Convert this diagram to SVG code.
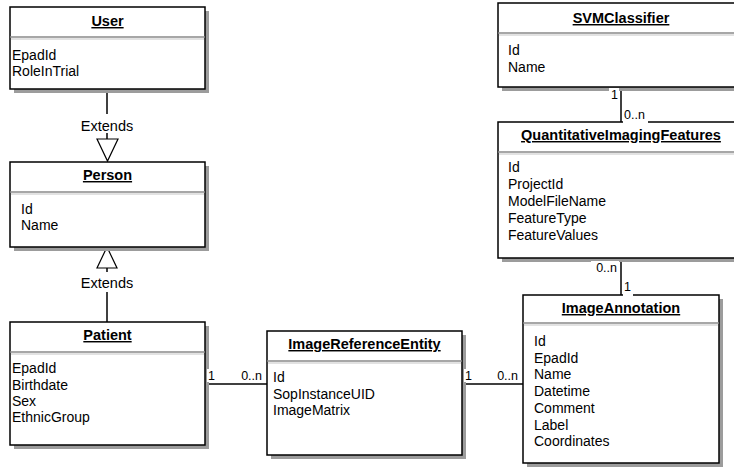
<svg xmlns="http://www.w3.org/2000/svg" width="734" height="475" viewBox="0 0 734 475">
<style>
text{font-family:"Liberation Sans",Arial,sans-serif;fill:#000}
.box{fill:#fff;stroke:#000;stroke-width:1.5}
.sh{fill:#9c9c9c}
.sep{stroke:#8a8a8a;stroke-width:1.5}
.sep2{stroke:#e2e2e2;stroke-width:2}
.title{font-size:14.5px;font-weight:bold;text-anchor:middle;text-decoration:underline}
.attr{font-size:14px}
.lbl{font-size:12.5px}
.ln{stroke:#000;stroke-width:1.5;fill:none}
.bg{fill:#fff}
.ext{font-size:14.5px;text-anchor:middle}
</style>
<g id="connectors">
<line class="ln" x1="107" y1="89" x2="107" y2="114"/>
<line class="ln" x1="107" y1="133" x2="107" y2="139"/>
<polygon points="97,139 118,139 107.5,161" fill="#fff" stroke="#000" stroke-width="1.2"/>
<text class="ext" x="107" y="131">Extends</text>
<polygon points="107,247 97,268 117,268" fill="#fff" stroke="#000" stroke-width="1.2"/>
<line class="ln" x1="107" y1="268" x2="107" y2="272"/>
<text class="ext" x="107" y="288">Extends</text>
<line class="ln" x1="107" y1="292" x2="107" y2="322"/>
<line class="ln" x1="205" y1="384" x2="267" y2="384"/>
<line class="ln" x1="462" y1="384" x2="523" y2="384"/>
<line class="ln" x1="621" y1="87" x2="621" y2="122"/>
<line class="ln" x1="621" y1="258" x2="621" y2="295"/>
</g>
<g id="User">
<rect class="sh" x="14" y="11" width="195" height="82"/>
<rect class="box" x="10" y="7" width="195" height="82"/>
<line class="sep" x1="10" y1="37" x2="205" y2="37"/><line class="sep2" x1="11" y1="39" x2="204" y2="39"/>
<text class="title" x="107.5" y="26">User</text>
<text class="attr" x="12" y="60">EpadId</text>
<text class="attr" x="12" y="76">RoleInTrial</text>
</g>
<g id="Person">
<rect class="sh" x="14" y="166" width="195" height="85"/>
<rect class="box" x="10" y="162" width="195" height="85"/>
<line class="sep" x1="10" y1="192" x2="205" y2="192"/><line class="sep2" x1="11" y1="194" x2="204" y2="194"/>
<text class="title" x="107.5" y="180">Person</text>
<text class="attr" x="21" y="213.5">Id</text>
<text class="attr" x="21" y="230">Name</text>
</g>
<g id="Patient">
<rect class="sh" x="14" y="326" width="195" height="123"/>
<rect class="box" x="10" y="322" width="195" height="123"/>
<line class="sep" x1="10" y1="352" x2="205" y2="352"/><line class="sep2" x1="11" y1="354" x2="204" y2="354"/>
<text class="title" x="107.5" y="340">Patient</text>
<text class="attr" x="12" y="373">EpadId</text>
<text class="attr" x="12" y="389.5">Birthdate</text>
<text class="attr" x="12" y="406">Sex</text>
<text class="attr" x="12" y="422">EthnicGroup</text>
</g>
<g id="ImageReferenceEntity">
<rect class="sh" x="271" y="335" width="195" height="124"/>
<rect class="box" x="267" y="331" width="195" height="124"/>
<line class="sep" x1="267" y1="361" x2="462" y2="361"/><line class="sep2" x1="268" y1="363" x2="461" y2="363"/>
<text class="title" x="364.5" y="349">ImageReferenceEntity</text>
<text class="attr" x="273" y="382">Id</text>
<text class="attr" x="273" y="398.5">SopInstanceUID</text>
<text class="attr" x="273" y="415">ImageMatrix</text>
</g>
<g id="ImageAnnotation">
<rect class="sh" x="527" y="299" width="196" height="168"/>
<rect class="box" x="523" y="295" width="196" height="168"/>
<line class="sep" x1="523" y1="323" x2="719" y2="323"/><line class="sep2" x1="524" y1="325" x2="718" y2="325"/>
<text class="title" x="621" y="313">ImageAnnotation</text>
<text class="attr" x="534" y="346">Id</text>
<text class="attr" x="534" y="362.7">EpadId</text>
<text class="attr" x="534" y="379.4">Name</text>
<text class="attr" x="534" y="396.1">Datetime</text>
<text class="attr" x="534" y="412.8">Comment</text>
<text class="attr" x="534" y="429.5">Label</text>
<text class="attr" x="534" y="446">Coordinates</text>
</g>
<g id="SVMClassifier">
<rect class="sh" x="502" y="7" width="260" height="84"/>
<rect class="box" x="498" y="3" width="260" height="84"/>
<line class="sep" x1="498" y1="33" x2="758" y2="33"/><line class="sep2" x1="499" y1="35" x2="757" y2="35"/>
<text class="title" x="621" y="23">SVMClassifier</text>
<text class="attr" x="508" y="55">Id</text>
<text class="attr" x="508" y="72">Name</text>
</g>
<g id="QuantitativeImagingFeatures">
<rect class="sh" x="502" y="126" width="260" height="136"/>
<rect class="box" x="498" y="122" width="260" height="136"/>
<line class="sep" x1="498" y1="152" x2="758" y2="152"/><line class="sep2" x1="499" y1="154" x2="757" y2="154"/>
<text class="title" x="621" y="140">QuantitativeImagingFeatures</text>
<text class="attr" x="508" y="172">Id</text>
<text class="attr" x="508" y="189">ProjectId</text>
<text class="attr" x="508" y="206">ModelFileName</text>
<text class="attr" x="508" y="223">FeatureType</text>
<text class="attr" x="508" y="240">FeatureValues</text>
</g>
<g id="labels">
<rect class="bg" x="207" y="369" width="9" height="13"/>
<text class="lbl" x="208" y="380">1</text>
<rect class="bg" x="238" y="369" width="25" height="13"/>
<text class="lbl" x="262" y="380" text-anchor="end">0..n</text>
<rect class="bg" x="464" y="369" width="9" height="13"/>
<text class="lbl" x="465" y="380">1</text>
<rect class="bg" x="494" y="369" width="25" height="13"/>
<text class="lbl" x="518" y="380" text-anchor="end">0..n</text>
<rect class="bg" x="609" y="88" width="10" height="13"/>
<text class="lbl" x="618" y="99" text-anchor="end">1</text>
<rect class="bg" x="623" y="109" width="25" height="14"/>
<text class="lbl" x="624" y="119">0..n</text>
<rect class="bg" x="591" y="261" width="28" height="13"/>
<text class="lbl" x="617" y="272" text-anchor="end">0..n</text>
<rect class="bg" x="623" y="280" width="10" height="16"/>
<text class="lbl" x="624" y="291">1</text>
</g>
</svg>
